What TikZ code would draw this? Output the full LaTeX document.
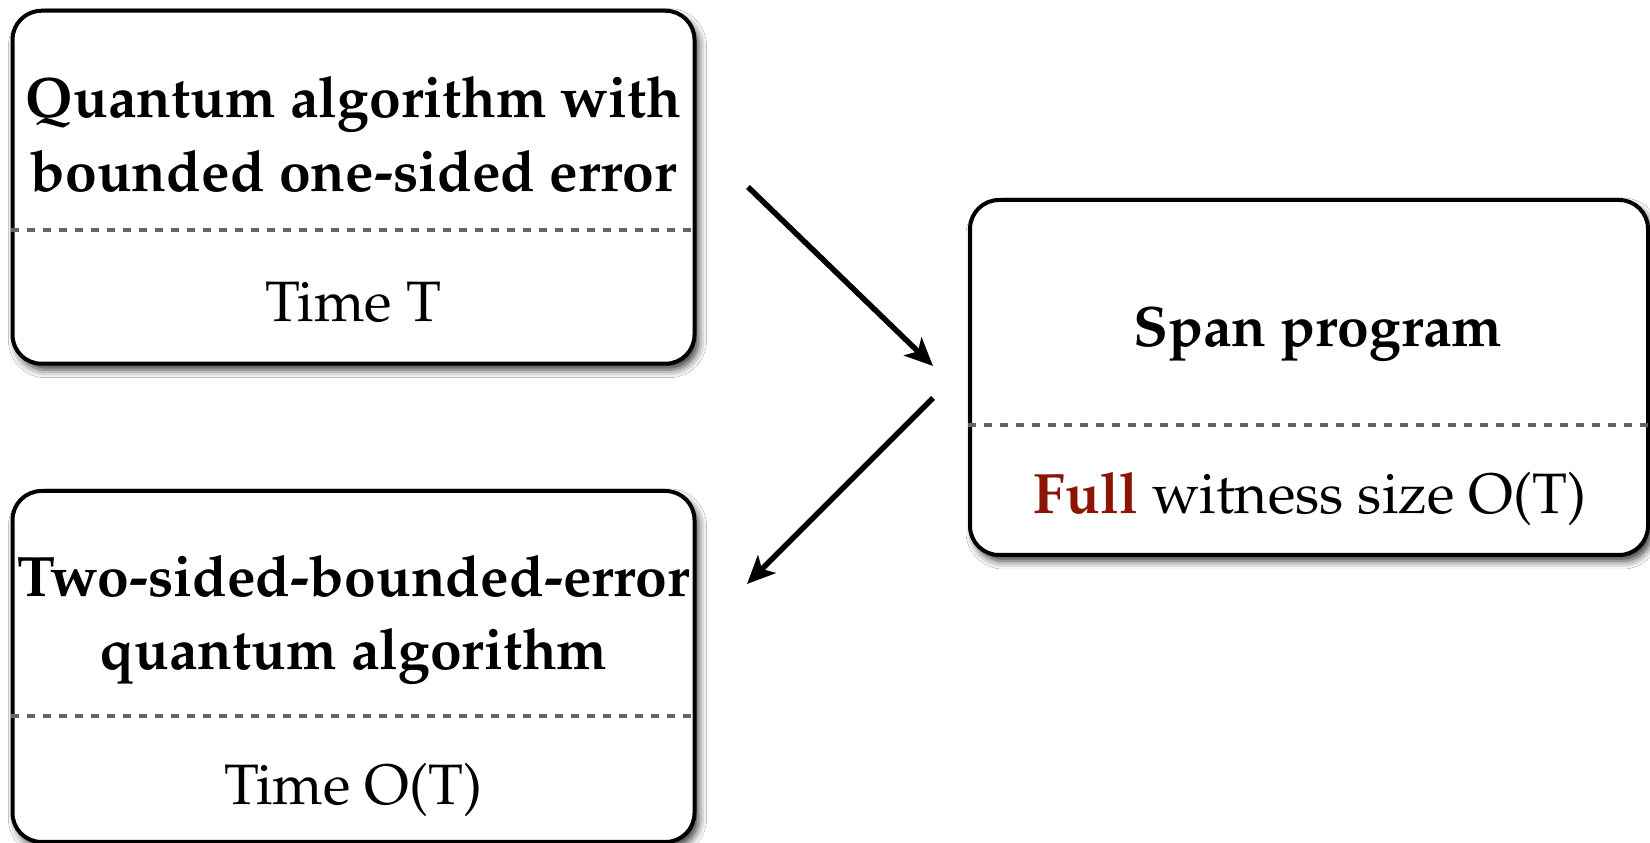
\documentclass[tikz,border=0pt]{standalone}
\usepackage[T1]{fontenc}
\usepackage{mathpazo}
\usetikzlibrary{arrows.meta,shadows.blur}
\definecolor{fullred}{RGB}{140,22,6}
\definecolor{dashgray}{RGB}{100,100,100}
\tikzset{
  box/.style={draw=black, line width=4pt, fill=white, rounded corners=29pt,
    blur shadow={shadow xshift=4pt, shadow yshift=-6pt, shadow blur radius=8pt, shadow opacity=80},
    inner sep=0pt},
  sep/.style={draw=dashgray, line width=3.5pt, dash pattern=on 8pt off 8pt},
  ttl/.style={anchor=base, inner sep=0pt, font=\fontsize{57}{70}\selectfont\bfseries},
  txt/.style={anchor=base, inner sep=0pt, font=\fontsize{57}{70}\selectfont},
  arr/.style={line width=5.5pt, -{Stealth[length=28pt,width=25pt,inset=7pt]}}
}
\begin{document}
\begin{tikzpicture}[x=1pt,y=1pt]
\useasboundingbox[fill=white] (0,0) rectangle (1650,843);
% boxes
\node[box, minimum width=682pt, minimum height=353pt] (q) at (353.5,655.75) {};
\node[box, minimum width=678pt, minimum height=355pt] (s) at (1309,465.5) {};
\node[box, minimum width=682pt, minimum height=351pt] (t) at (353.5,176.5) {};
% separators
\draw[sep] (q.west |- 0,613) -- (q.east |- 0,613);
\draw[sep] (s.west |- 0,418) -- (s.east |- 0,418);
\draw[sep] (t.west |- 0,127) -- (t.east |- 0,127);
% texts
\node[ttl] (q1) at (353.5,725) {Quantum algorithm with};
\node[ttl] (q2) at (353.5,651.5) {bounded one-sided error};
\node[txt] (q3) at (353.5,521) {Time T};
\node[ttl] (s1) at (1318,496) {Span program};
\node[txt] (s2) at (1310,329.5) {\textcolor{fullred}{\bfseries Full} witness size O(T)};
\node[ttl] (t1) at (353.5,246.4) {Two-sided-bounded-error};
\node[ttl] (t2) at (353.5,173) {quantum algorithm};
\node[txt] (t3) at (353.5,38) {Time O(T)};
% arrows
\coordinate (a1s) at (748,656);
\coordinate (a1e) at (933,477);
\coordinate (a2s) at (933,445);
\coordinate (a2e) at (747,259);
\draw[arr] (a1s) -- (a1e);
\draw[arr] (a2s) -- (a2e);
\end{tikzpicture}
\end{document}
